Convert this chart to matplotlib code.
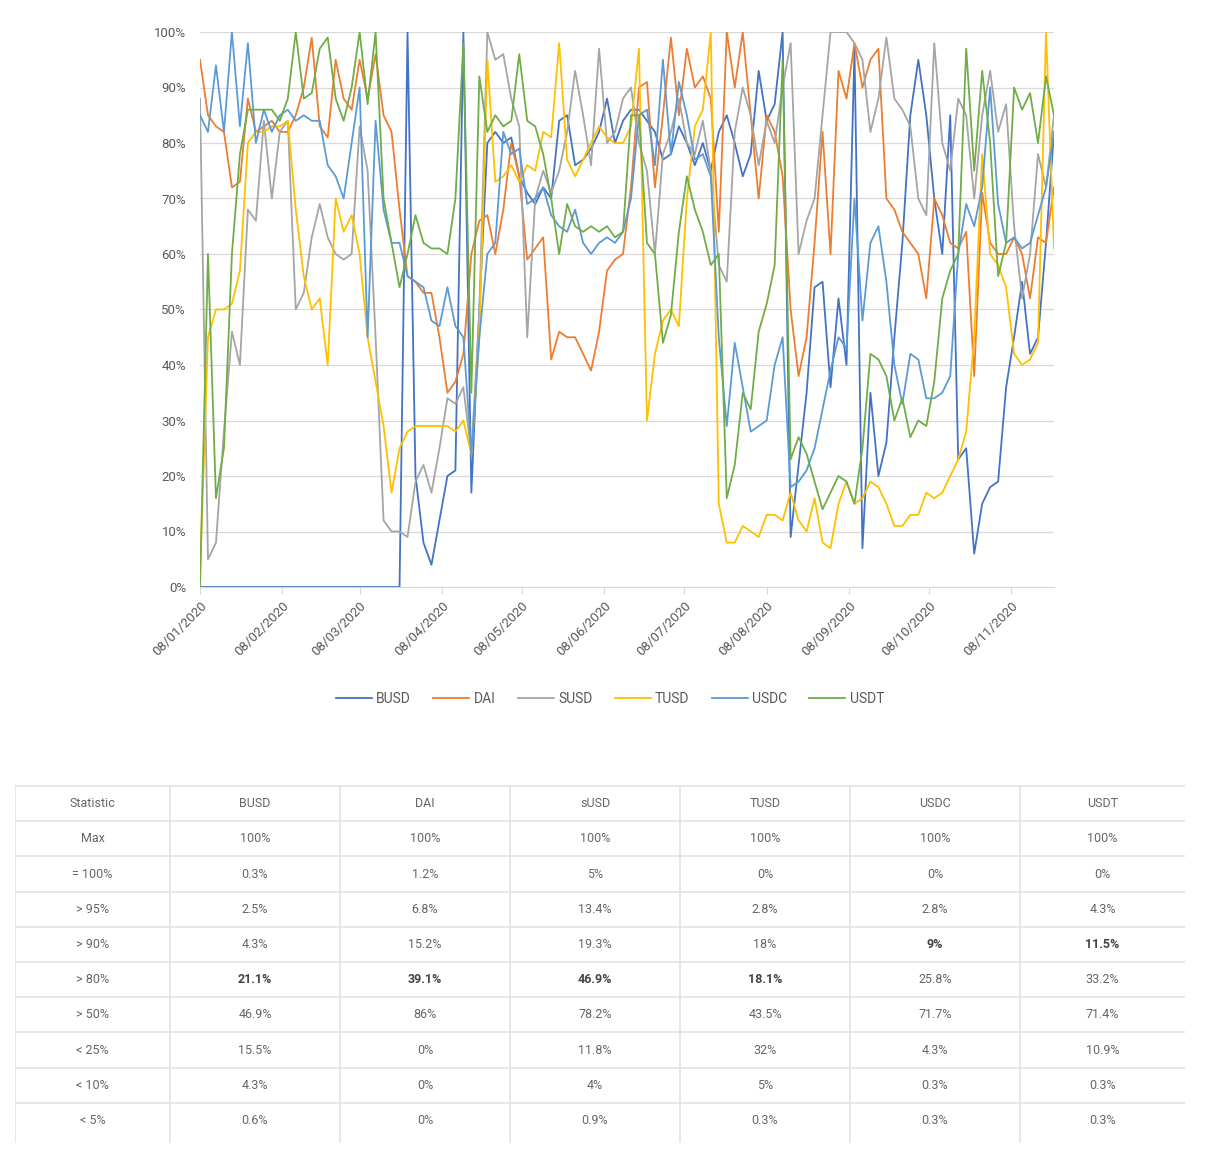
import numpy as np
import matplotlib.pyplot as plt
from matplotlib.ticker import PercentFormatter, MultipleLocator

# share of time (%) - one reading every 3 days from 08/01/2020
start = np.datetime64("2020-01-08")
step_days = 3

busd = [0, 0, 0, 0, 0, 0, 0, 0, 0, 0, 0, 0, 0, 0, 0, 0, 0, 0, 0, 0, 0, 0, 0, 0, 0, 0,
        100, 20, 8, 4, 12, 20, 21, 100, 17, 50, 80, 82, 80, 81, 74, 71, 69, 72, 70, 84, 85, 76, 77, 79,
        82, 88, 80, 84, 86, 86, 84, 82, 77, 78, 83, 80, 76, 80, 75, 82, 85, 80, 74, 78,
        93, 84, 87, 100, 9, 22, 35, 54, 55, 36, 52, 40, 97, 7, 35, 20, 26, 45, 62, 85,
        95, 85, 70, 60, 85, 23, 25, 6, 15, 18, 19, 36, 45, 55, 42, 45, 62, 82]
dai = [95, 85, 83, 82, 72, 73, 88, 82, 83, 84, 82, 82, 85, 90, 99, 83, 81, 95, 88, 86,
       95, 88, 96, 85, 82, 68, 56, 55, 53, 53, 45, 35, 37, 42, 60, 66, 67, 60, 68, 80,
       74, 59, 61, 63, 41, 46, 45, 45, 42, 39, 46, 57, 59, 60, 72, 90, 91, 72, 85, 99,
       85, 97, 90, 92, 88, 64, 100, 90, 100, 85, 70, 85, 82, 74, 50, 38, 45, 62, 82, 60,
       93, 88, 98, 90, 95, 97, 70, 68, 64, 62, 60, 52, 70, 67, 62, 61, 64, 38, 71, 62,
       60, 60, 63, 60, 52, 63, 62, 72]
susd = [88, 5, 8, 28, 46, 40, 68, 66, 84, 70, 82, 84, 50, 53, 63, 69, 63, 60, 59, 60,
        83, 75, 45, 12, 10, 10, 9, 19, 22, 17, 25, 34, 33, 36, 24, 50, 100, 95, 96, 88,
        83, 45, 70, 75, 71, 75, 82, 93, 85, 76, 97, 80, 82, 88, 90, 80, 75, 60, 78, 82,
        88, 80, 78, 84, 75, 58, 55, 82, 90, 85, 76, 84, 80, 90, 98, 60, 66, 70, 85, 100,
        100, 100, 98, 95, 82, 88, 99, 88, 86, 83, 70, 67, 98, 80, 75, 88, 85, 70, 85, 93,
        82, 87, 65, 52, 60, 78, 72, 85]
tusd = [2, 45, 50, 50, 51, 57, 80, 82, 82, 83, 83, 84, 68, 56, 50, 52, 40, 70, 64, 67,
        60, 45, 37, 29, 17, 25, 28, 29, 29, 29, 29, 29, 28, 30, 24, 45, 95, 73, 74, 76,
        73, 76, 75, 82, 81, 98, 77, 74, 77, 80, 83, 81, 80, 80, 83, 97, 30, 42, 48, 50,
        47, 70, 83, 86, 100, 15, 8, 8, 11, 10, 9, 13, 13, 12, 17, 12, 10, 16, 8, 7,
        15, 19, 15, 16, 19, 18, 15, 11, 11, 13, 13, 17, 16, 17, 20, 23, 28, 45, 78, 60,
        58, 54, 42, 40, 41, 44, 100, 61]
usdc = [85, 82, 94, 82, 100, 83, 98, 80, 86, 82, 85, 86, 84, 85, 84, 84, 76, 74, 70, 80,
        90, 45, 84, 68, 62, 62, 56, 55, 54, 48, 47, 54, 47, 45, 24, 45, 60, 62, 82, 78,
        79, 69, 70, 72, 67, 65, 64, 68, 62, 60, 62, 63, 62, 64, 70, 85, 86, 76, 95, 78,
        91, 85, 77, 78, 74, 45, 29, 44, 36, 28, 29, 30, 40, 45, 18, 19, 21, 25, 32, 39,
        45, 43, 70, 48, 62, 65, 55, 40, 33, 42, 41, 34, 34, 35, 38, 60, 69, 65, 72, 90,
        69, 62, 63, 61, 62, 67, 72, 82]
usdt = [0, 60, 16, 25, 60, 78, 86, 86, 86, 86, 84, 88, 100, 88, 89, 97, 99, 88, 84, 90,
        100, 87, 100, 70, 62, 54, 60, 67, 62, 61, 61, 60, 70, 98, 35, 92, 82, 85, 83, 84,
        96, 84, 83, 78, 70, 60, 69, 65, 64, 65, 64, 65, 63, 64, 85, 85, 62, 60, 44, 49,
        64, 74, 68, 64, 58, 60, 16, 22, 35, 32, 46, 51, 58, 95, 23, 27, 24, 19, 14, 17,
        20, 19, 15, 25, 42, 41, 38, 30, 34, 27, 30, 29, 37, 52, 57, 60, 97, 75, 93, 80,
        56, 62, 90, 86, 89, 80, 92, 85]

names = ["BUSD", "DAI", "SUSD", "TUSD", "USDC", "USDT"]
colors = ["#4472C4", "#ED7D31", "#A5A5A5", "#FFC000", "#5B9BD5", "#70AD47"]
series = [busd, dai, susd, tusd, usdc, usdt]

# summary table
table_cols = ["BUSD", "DAI", "sUSD", "TUSD", "USDC", "USDT"]
stat_labels = ["Max", "= 100%", "> 95%", "> 90%", "> 80%", "> 50%", "< 25%", "< 10%", "< 5%"]
stats = {
    "BUSD": ["100%", "0.3%", "2.5%", "4.3%", "21.1%", "46.9%", "15.5%", "4.3%", "0.6%"],
    "DAI": ["100%", "1.2%", "6.8%", "15.2%", "39.1%", "86%", "0%", "0%", "0%"],
    "sUSD": ["100%", "5%", "13.4%", "19.3%", "46.9%", "78.2%", "11.8%", "4%", "0.9%"],
    "TUSD": ["100%", "0%", "2.8%", "18%", "18.1%", "43.5%", "32%", "5%", "0.3%"],
    "USDC": ["100%", "0%", "2.8%", "9%", "25.8%", "71.7%", "4.3%", "0.3%", "0.3%"],
    "USDT": ["100%", "0%", "4.3%", "11.5%", "33.2%", "71.4%", "10.9%", "0.3%", "0.3%"],
}
bold_cells = {("BUSD", "> 80%"), ("DAI", "> 80%"), ("sUSD", "> 80%"), ("TUSD", "> 80%"),
              ("USDC", "> 90%"), ("USDT", "> 90%")}

W, H = 1208, 1156
plt.rcParams["font.family"] = ["Roboto", "DejaVu Sans"]
fig = plt.figure(figsize=(W / 100, H / 100), dpi=100)
fig.patch.set_facecolor("white")

n = len(busd)
dates = start + np.arange(n) * np.timedelta64(step_days, "D")

ax = fig.add_axes([200 / W, 1 - 587 / H, 854 / W, 555 / H])
for vals, name, col in zip(series, names, colors):
    ax.plot(dates, np.array(vals) / 100, color=col, lw=1.3, label=name)

ax.set_ylim(0, 1)
ax.set_xlim(start, start + np.timedelta64(321, "D"))
ax.yaxis.set_major_locator(MultipleLocator(0.1))
ax.yaxis.set_major_formatter(PercentFormatter(1.0, decimals=0))
ax.grid(axis="y", color="#D9D9D9", lw=0.9)
ax.set_axisbelow(True)
for s in ["top", "right", "left"]:
    ax.spines[s].set_visible(False)
ax.spines["bottom"].set_color("#D9D9D9")

tick_dates = [np.datetime64(f"2020-{m:02d}-08") for m in range(1, 12)]
ax.set_xticks(tick_dates)
ax.set_xticklabels([str(d)[8:10] + "/" + str(d)[5:7] + "/" + str(d)[:4] for d in tick_dates],
                   rotation=45, ha="right", rotation_mode="anchor")
ax.tick_params(axis="x", colors="#D9D9D9", length=5, labelcolor="#595959", labelsize=9.5, pad=4)
ax.tick_params(axis="y", length=0, labelcolor="#595959", labelsize=9.5, pad=10)

fig.legend(loc="center", bbox_to_anchor=(610 / W, 1 - 699 / H), ncol=6, frameon=False,
           fontsize=10, handlelength=2.6, columnspacing=1.6, handletextpad=0.3,
           labelcolor="#595959")

# table
tax = fig.add_axes([15 / W, 1 - 1150 / H, 1170 / W, 365 / H])
tax.set_xlim(15, 1185)
tax.set_ylim(1150, 785)
tax.axis("off")
col_edges = [15, 170, 340, 510, 680, 850, 1020, 1185]
top, row_h = 786, 35.2
line_col = "#E3E3E3"
for k in range(10):
    y = top + k * row_h
    tax.plot([col_edges[0], col_edges[-1]], [y, y], color=line_col, lw=1.2)
for x in col_edges[:-1]:
    tax.plot([x, x], [top, top + 10 * row_h + 4], color=line_col, lw=1.2)

header = ["Statistic"] + table_cols
for j, h in enumerate(header):
    cx = (col_edges[j] + col_edges[j + 1]) / 2
    tax.text(cx, top + row_h / 2, h, ha="center", va="center", fontsize=9, color="#666666")
for r, lab in enumerate(stat_labels):
    cy = top + (r + 1.5) * row_h
    tax.text((col_edges[0] + col_edges[1]) / 2, cy, lab, ha="center", va="center",
             fontsize=9, color="#666666")
    for j, c in enumerate(table_cols):
        cx = (col_edges[j + 1] + col_edges[j + 2]) / 2
        bold = (c, lab) in bold_cells
        tax.text(cx, cy, stats[c][r], ha="center", va="center", fontsize=9,
                 color="#444444" if bold else "#666666",
                 fontweight="bold" if bold else "normal")

fig.savefig("out.png", dpi=100, facecolor="white")
